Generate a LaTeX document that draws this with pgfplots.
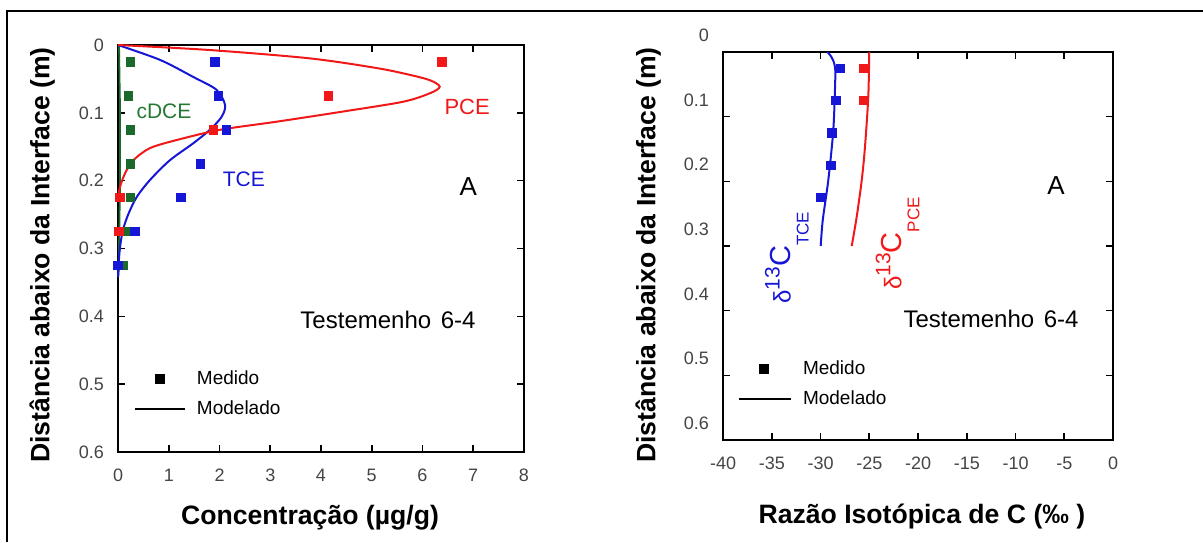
\documentclass[border=0pt]{standalone}
\usepackage{pgfplots}
\pgfplotsset{compat=1.18}
\usepackage{fontspec}
\setmainfont{Liberation Sans}
\definecolor{cRed}{HTML}{F01818}
\definecolor{cBlue}{HTML}{1616D6}
\definecolor{cGreen}{HTML}{1C6A2B}
\definecolor{cGreenTxt}{HTML}{247833}
\definecolor{cTick}{HTML}{444444}

\pgfplotsset{
  panel/.style={
    scale only axis,
    y dir=reverse, ymin=0, ymax=0.6,
    ytick={0,0.1,0.2,0.3,0.4,0.5,0.6},
    yticklabels={0,0.1,0.2,0.3,0.4,0.5,0.6},
    tick align=inside,
    major tick length=3.5pt,
    axis line style={line width=1.4pt},
    every tick/.append style={black, line width=0.8pt},
    tick label style={font=\fontsize{9}{10}\selectfont, text=cTick},
    xticklabel style={yshift=-5pt},
    yticklabel style={xshift=-3.5pt},
    label style={font=\bfseries\fontsize{13.3}{15}\selectfont},
    clip=false,
    legend style={draw=none, fill=none, inner sep=0pt, outer sep=0pt, anchor=west,
      font=\fontsize{9.5}{11}\selectfont, row sep=6.7pt, column sep=5.5pt,
      nodes={inner sep=0pt}},
    legend cell align=left,
  },
  meas/.style={only marks, mark=square*, mark size=2.1pt, forget plot},
  model/.style={no marks, line width=1pt, smooth, tension=0.5, forget plot},
  legmark/.style={legend image code/.code={\draw[##1] plot[only marks, mark=square*, mark size=2.3pt] coordinates {(12.5pt,0pt)};}},
  legline/.style={legend image code/.code={\draw[##1] (0pt,0pt) -- (#1,0pt);}},
}

\begin{document}
\begin{tikzpicture}

% painel esquerdo: concentracoes
\begin{axis}[panel,
  at={(160.5pt,146.75pt)}, anchor=center,
  width=203pt, height=203.5pt,
  xmin=0, xmax=8,
  xtick={0,1,2,3,4,5,6,7,8},
  xticklabels={0,1,2,3,4,5,6,7,8},
  xlabel={Concentração (µg/g)},
  ylabel={Distância abaixo da Interface (m)},
  xlabel style={at={(axis description cs:0.473,-0.162)}, anchor=center},
  ylabel style={at={(axis description cs:-0.187,0.484)}, anchor=center},
  legend style={at={(axis cs:0.315,0.515)}},
]
% cDCE
\addplot[model, cGreen, line width=0.9pt] coordinates {(0.02,0) (0.03,0.05) (0.04,0.1) (0.04,0.15) (0.04,0.2) (0.03,0.25) (0.02,0.3) (0.01,0.34)};
\addplot[meas, cGreen] coordinates {(0.24,0.025) (0.2,0.075) (0.24,0.125) (0.24,0.175) (0.24,0.225) (0.17,0.275) (0.1,0.325)};
% TCE
\addplot[model, cBlue] coordinates {(0,0) (0.83,0.022) (1.48,0.047) (1.94,0.066) (2.11,0.0885) (2.04,0.106) (1.81,0.125) (1.48,0.145) (1.02,0.17) (0.63,0.199) (0.37,0.224) (0.2,0.25) (0.09,0.275) (0.03,0.305) (0,0.342)};
\addplot[meas, cBlue] coordinates {(1.91,0.025) (1.98,0.075) (2.14,0.125) (1.62,0.175) (1.24,0.225) (0.33,0.275) (0,0.325)};
% PCE
\addplot[model, cRed] coordinates {(0,0) (1.81,0.0074) (3.78,0.0197) (5.1,0.034) (5.75,0.044) (6.15,0.052) (6.34,0.0615) (6.15,0.071) (5.62,0.0836) (4.44,0.098) (3.13,0.113) (2.01,0.125) (1.16,0.14) (0.63,0.152) (0.30,0.17) (0.14,0.189) (0.04,0.209) (0,0.224)};
\addplot[meas, cRed] coordinates {(6.38,0.025) (4.14,0.075) (1.88,0.125) (0.04,0.225) (0.02,0.275)};

\node[text=cGreenTxt, font=\fontsize{10.5}{12}\selectfont] at (axis cs:0.906,0.098) {cDCE};
\node[text=cBlue, font=\fontsize{10.5}{12}\selectfont] at (axis cs:2.48,0.198) {TCE};
\node[text=cRed, font=\fontsize{11}{12}\selectfont] at (axis cs:6.88,0.091) {PCE};
\node[font=\fontsize{13}{14}\selectfont] at (axis cs:6.9,0.208) {A};
\node[font=\fontsize{12}{14}\selectfont] at (axis cs:5.32,0.406) {Testemenho\hspace{0.4em}6-4};

\addlegendimage{black, legmark}
\addlegendentry{Medido}
\addlegendimage{black, line width=1pt, legline=25pt}
\addlegendentry{Modelado}
\end{axis}

% painel direito: razao isotopica
\begin{axis}[panel,
  at={(459pt,148pt)}, anchor=center,
  width=195pt, height=194pt,
  xmin=-40, xmax=0,
  xtick={-40,-35,-30,-25,-20,-15,-10,-5,0},
  xticklabels={-40,-35,-30,-25,-20,-15,-10,-5,0},
  yticklabel style={yshift=8.3pt},
  xlabel={Razão Isotópica de C (‰ )},
  ylabel={Distância abaixo da Interface (m)},
  xlabel style={at={(axis description cs:0.510,-0.198)}, anchor=center},
  ylabel style={at={(axis description cs:-0.192,0.477)}, anchor=center},
  legend style={at={(axis cs:-38.46,0.513)}},
]
\addplot[model, cBlue] coordinates {(-29.3,0) (-29.0,0.005) (-28.7,0.013) (-28.5,0.025) (-28.5,0.05) (-28.69,0.121) (-29.2,0.198) (-29.77,0.26) (-29.98,0.3)};
\addplot[meas, cBlue] coordinates {(-27.93,0.025) (-28.44,0.075) (-28.85,0.125) (-28.92,0.175) (-29.98,0.225)};
\addplot[model, cRed] coordinates {(-25.0,0) (-25.1,0.069) (-25.44,0.147) (-25.77,0.198) (-26.29,0.255) (-26.8,0.3)};
\addplot[meas, cRed] coordinates {(-25.6,0.025) (-25.6,0.075)};

\node[rotate=90, text=cBlue, inner sep=0pt, font=\fontsize{14.5}{16}\selectfont] at (axis cs:-33.46,0.318)
  {{\fontsize{12}{12}\selectfont δ}\raisebox{5.5pt}{\fontsize{10.5}{11}\selectfont 13}C\raisebox{-9pt}{\fontsize{8.5}{9}\selectfont TCE}};
\node[rotate=90, text=cRed, inner sep=0pt, font=\fontsize{14.5}{16}\selectfont] at (axis cs:-22.1,0.296)
  {{\fontsize{12}{12}\selectfont δ}\raisebox{5.5pt}{\fontsize{10.5}{11}\selectfont 13}C\raisebox{-9pt}{\fontsize{8.5}{9}\selectfont PCE}};
\node[font=\fontsize{13}{14}\selectfont] at (axis cs:-5.85,0.207) {A};
\node[font=\fontsize{12}{14}\selectfont] at (axis cs:-12.51,0.413) {Testemenho\hspace{0.4em}6-4};

\addlegendimage{black, legmark}
\addlegendentry{Medido}
\addlegendimage{black, line width=1pt, legline=26pt}
\addlegendentry{Modelado}
\end{axis}

% moldura
\draw[line width=1.3pt] (3.5pt,0pt) -- (3.5pt,265.5pt) -- (601.5pt,265.5pt);
\pgfresetboundingbox
\useasboundingbox (0pt,0pt) rectangle (601.5pt,271pt);
\end{tikzpicture}
\end{document}
